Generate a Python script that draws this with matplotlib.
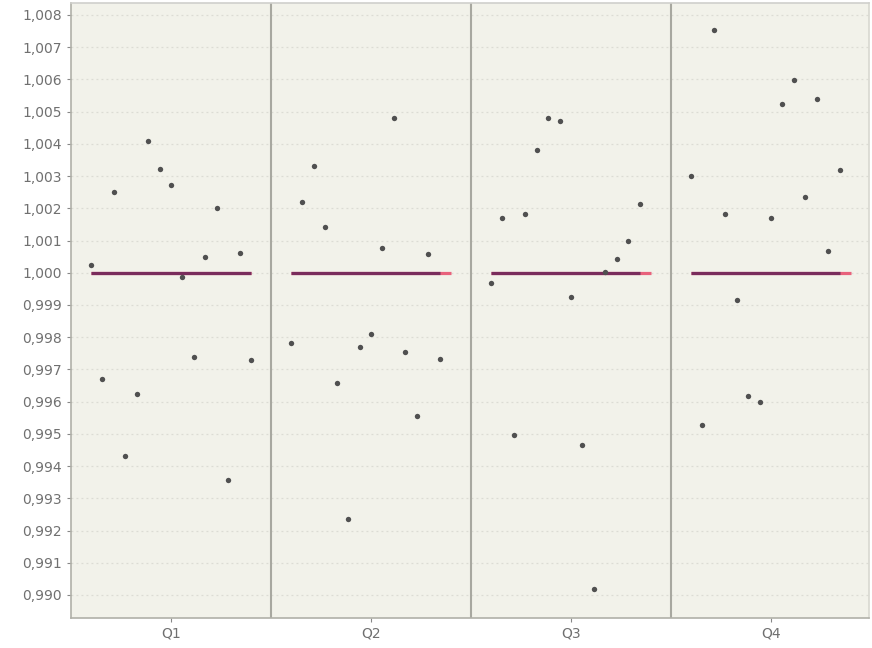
import matplotlib
matplotlib.use("Agg")
import matplotlib.pyplot as plt
from matplotlib.ticker import FuncFormatter, MultipleLocator
import numpy as np

categories = ["Q1", "Q2", "Q3", "Q4"]
values_q1 = [1.00023, 0.99670, 1.00250, 0.99431, 0.99624, 1.00409, 1.00322, 1.00271,
             0.99986, 0.99739, 1.00048, 1.00200, 0.99357, 1.00062, 0.99730]
values_q2 = [0.99782, 1.00220, 1.00332, 1.00143, 0.99657, 0.99237, 0.99769, 0.99809,
             1.00078, 1.00481, 0.99753, 0.99556, 1.00058, 0.99732]
values_q3 = [0.99968, 1.00169, 0.99496, 1.00183, 1.00382, 1.00479, 1.00472, 0.99925,
             0.99467, 0.99018, 1.00003, 1.00042, 1.00100, 1.00213]
values_q4 = [1.00301, 0.99527, 1.00754, 1.00182, 0.99917, 0.99617, 0.99598, 1.00169,
             1.00524, 1.00597, 1.00234, 1.00538, 1.00068, 1.00320]
series = [values_q1, values_q2, values_q3, values_q4]
target = 1.000
slots = 15

fig = plt.figure(figsize=(8.72, 6.48), dpi=100)
ax = fig.add_axes([71/872, 30/648, 798/872, 615/648])
ax.set_facecolor("#f2f2ea")

offsets = np.linspace(-0.4, 0.4, slots)
for ci, vals in enumerate(series):
    xs = ci + offsets[:len(vals)]
    # full-width target line (pink) and the line over the points (purple)
    ax.plot([ci + offsets[0], ci + offsets[-1]], [target, target], color="#e8627c",
            lw=2.3, solid_capstyle="butt", zorder=2)
    ax.plot([xs[0], xs[-1]], [target, target], color="#7a2c5c", lw=2.3,
            solid_capstyle="butt", zorder=3)
    ax.scatter(xs, vals, s=15, color="#505050", zorder=4, linewidths=0)

for b in [0.5, 1.5, 2.5]:
    ax.axvline(b, color="#a8a8a0", lw=1.5, zorder=1)

ax.set_xlim(-0.5, 3.49)
ax.set_ylim(0.989286, 1.008372)
ax.yaxis.set_major_locator(MultipleLocator(0.001))
ax.yaxis.set_major_formatter(FuncFormatter(lambda v, p: f"{v:.3f}".replace(".", ",")))
ax.set_xticks(range(len(categories)))
ax.set_xticklabels(categories)

ax.grid(axis="y", color="#dcdcd4", lw=0.9, linestyle=(0, (1.5, 2.5)), zorder=0)
ax.set_axisbelow(True)

for side in ["left", "bottom", "top", "right"]:
    ax.spines[side].set_color("#b0b0a8")
    ax.spines[side].set_linewidth(1.2)
ax.spines["top"].set_color("#d0d0cc")
ax.spines["right"].set_color("#d8d8d0")

ax.tick_params(axis="both", colors="#888888", labelcolor="#707070", labelsize=10,
               length=3, width=0.8)
ax.tick_params(axis="x", pad=3)

fig.savefig("out.png", dpi=100, facecolor="white")
